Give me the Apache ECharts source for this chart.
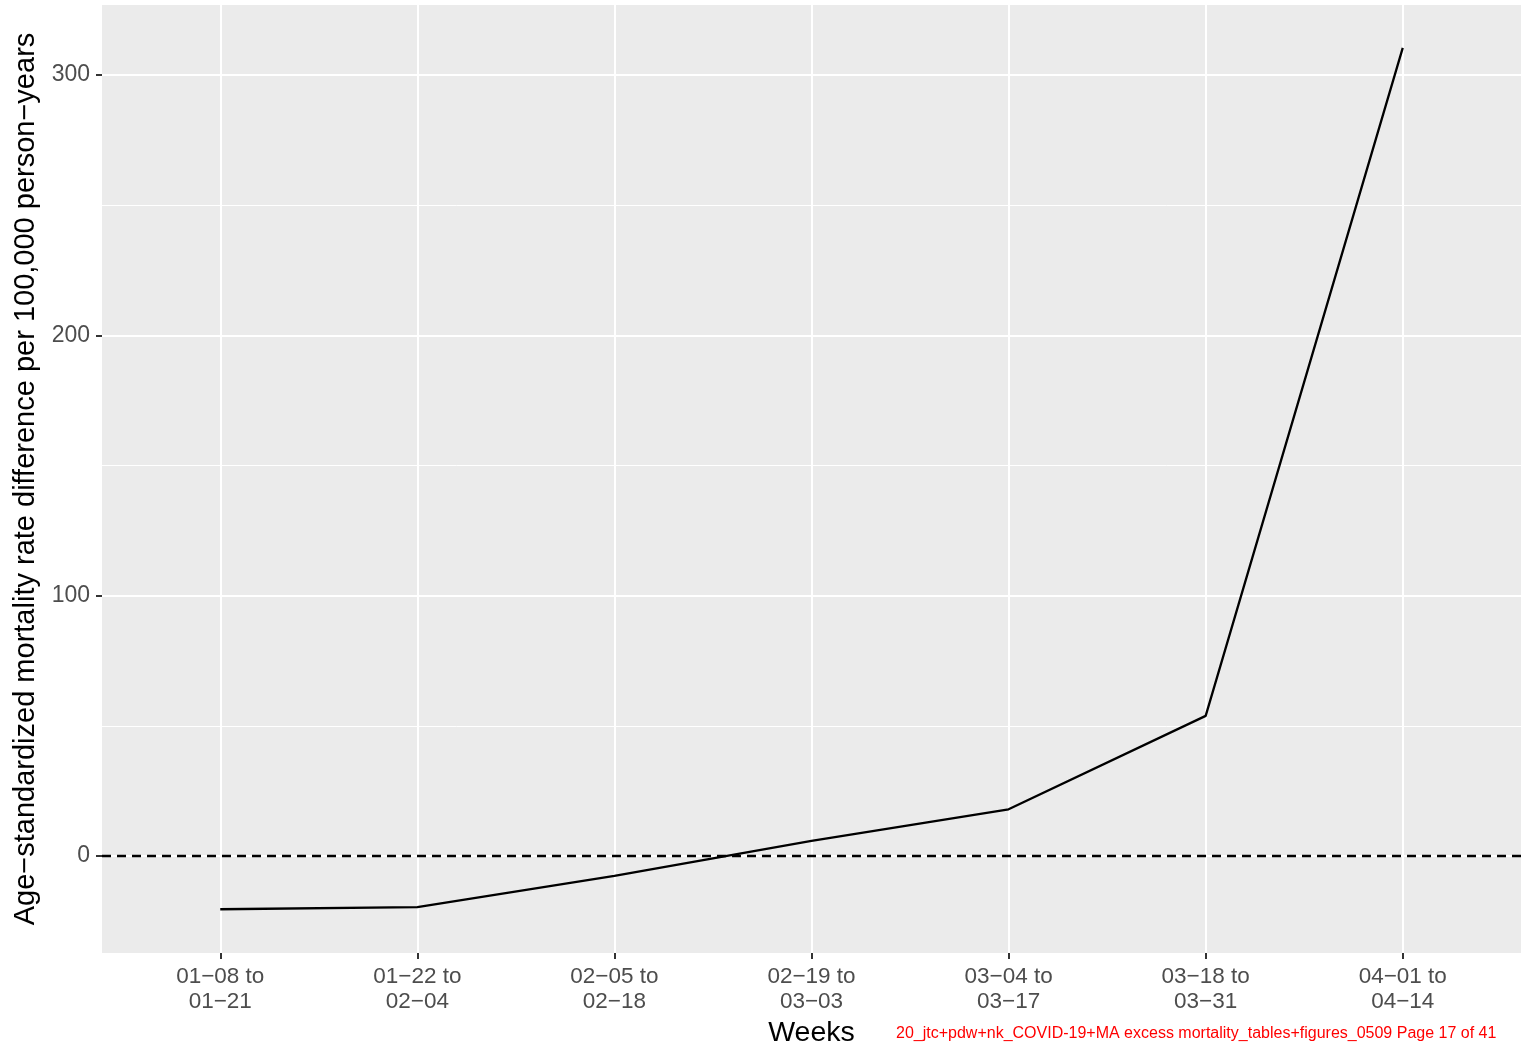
<!DOCTYPE html>
<html>
<head>
<meta charset="utf-8">
<script src="https://cdn.jsdelivr.net/npm/echarts@6/dist/echarts.min.js"></script>
<style>html,body{margin:0;padding:0;background:#fff}#c{width:1524px;height:1046px}</style>
</head>
<body>
<div id="c"></div>
<script>
const categories = ["01−08 to\n01−21","01−22 to\n02−04","02−05 to\n02−18","02−19 to\n03−03","03−04 to\n03−17","03−18 to\n03−31","04−01 to\n04−14"];
const values = [-20.5, -19.7, -7.7, 5.8, 17.9, 53.8, 310.4];
const yTicks = [0, 100, 200, 300];
const yMinor = [50, 150, 250];
const xPositions = categories.map((c, i) => i + 1);
const footnote = "20_jtc+pdw+nk_COVID-19+MA excess mortality_tables+figures_0509 Page 17 of 41";

const FONT = "Liberation Sans, Arial, Helvetica, sans-serif";
const chart = echarts.init(document.getElementById('c'));
chart.setOption({
  animation: false,
  backgroundColor: '#fff',
  grid: { left: 102, right: 3, top: 5, bottom: 93, show: true, backgroundColor: '#EBEBEB', borderWidth: 0, outerBoundsMode: 'none', containLabel: false },
  title: {
    text: footnote, left: 896, top: 1026, padding: 0,
    textStyle: { color: '#FF0000', fontSize: 16, fontWeight: 'normal', fontFamily: FONT }
  },
  xAxis: {
    type: 'value', min: 0.4, max: 7.6,
    name: 'Weeks', nameLocation: 'middle', nameGap: 63,
    nameTextStyle: { color: '#000', fontSize: 28.5, fontFamily: FONT },
    axisLine: { show: false, onZero: false },
    axisTick: { show: true, length: 6, lineStyle: { color: '#333', width: 2 }, customValues: xPositions },
    axisLabel: { customValues: xPositions, color: '#4D4D4D', fontSize: 22.5, fontFamily: FONT, lineHeight: 25, margin: 11,
      formatter: v => categories[Math.round(v) - 1] || '' },
    splitLine: { show: true, lineStyle: { color: '#fff', width: 2 } }
  },
  yAxis: [{
    type: 'value', min: -37.3, max: 326.9,
    name: 'Age−standardized mortality rate difference per 100,000 person−years',
    nameLocation: 'middle', nameGap: 62,
    nameTextStyle: { color: '#000', fontSize: 29, fontFamily: FONT },
    axisLine: { show: false, onZero: false },
    axisTick: { show: true, length: 6, lineStyle: { color: '#333', width: 2 }, customValues: yTicks },
    axisLabel: { customValues: yTicks, color: '#4D4D4D', fontSize: 23, fontFamily: FONT, margin: 12 },
    splitLine: { show: true, lineStyle: { color: '#fff', width: 2 } }
  }, {
    type: 'value', min: -37.3, max: 326.9, position: 'left',
    axisLine: { show: false, onZero: false }, axisTick: { show: false, customValues: yMinor },
    axisLabel: { show: false, customValues: yMinor },
    splitLine: { show: true, lineStyle: { color: '#fff', width: 1 } }
  }],
  series: [{
    type: 'line',
    data: xPositions.map((x, i) => [x, values[i]]),
    showSymbol: false, symbol: 'none',
    lineStyle: { color: '#000', width: 2.3 },
    z: 3,
    markLine: {
      silent: true, symbol: 'none', label: { show: false },
      lineStyle: { color: '#000', type: [9, 6], width: 2.3 },
      data: [{ yAxis: 0 }]
    }
  }]
});
</script>
</body>
</html>
